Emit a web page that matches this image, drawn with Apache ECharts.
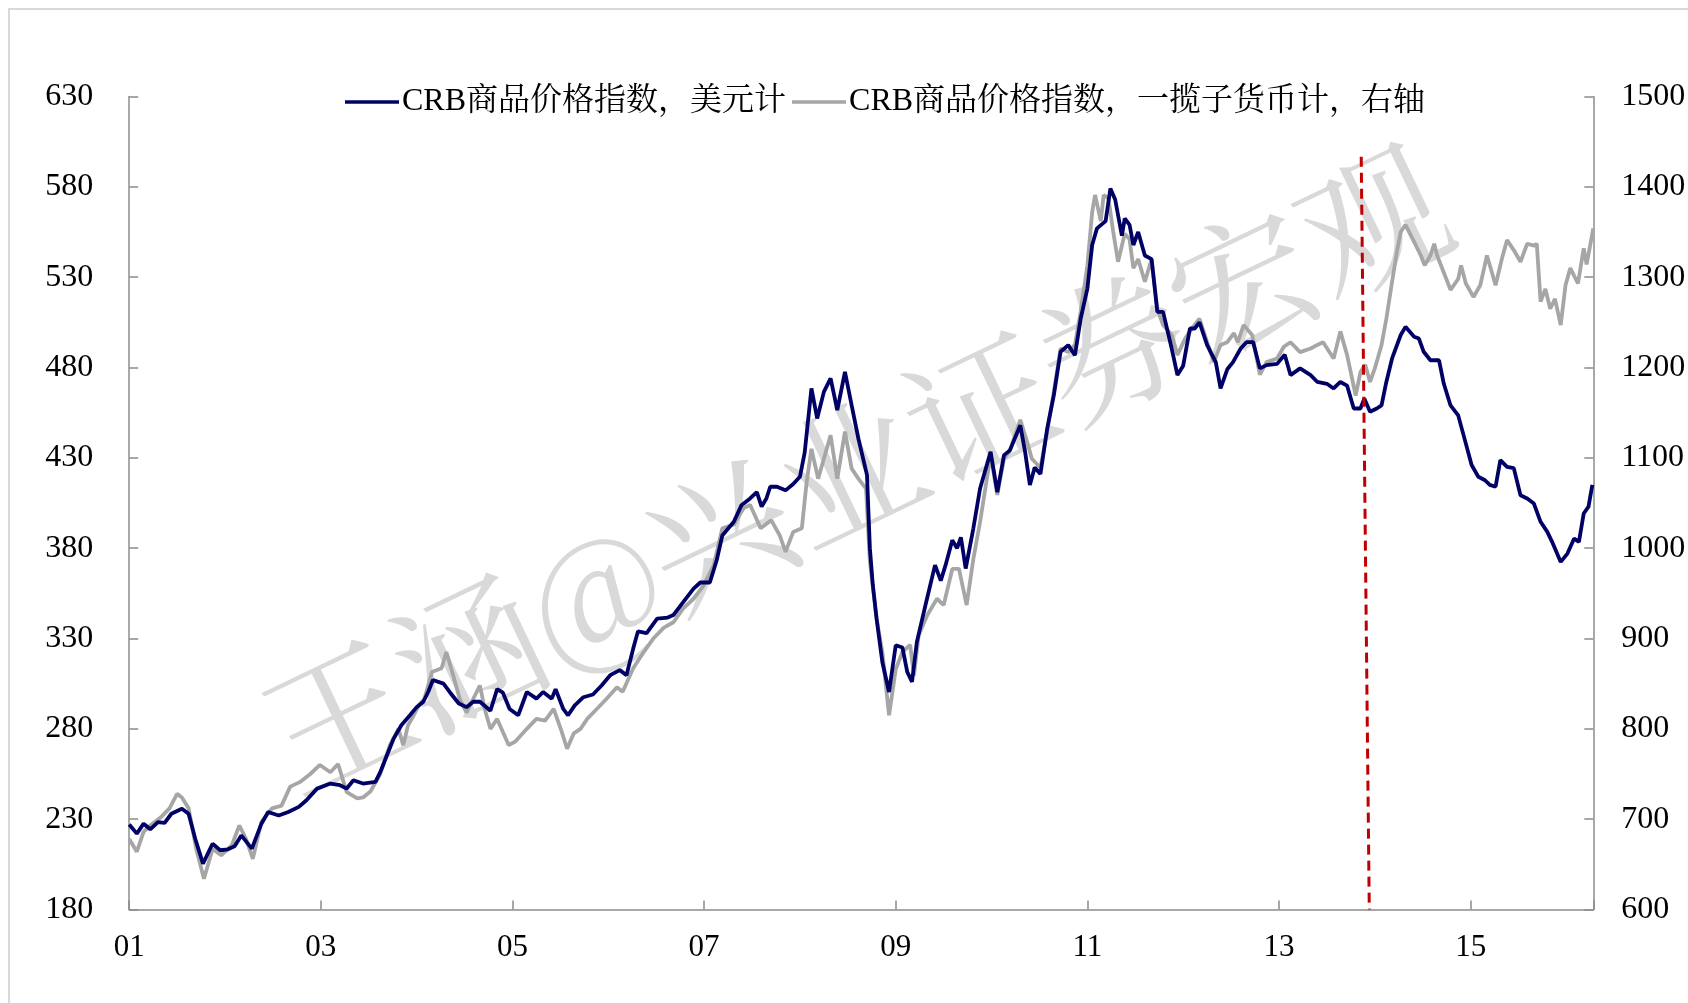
<!DOCTYPE html>
<html>
<head>
<meta charset="utf-8">
<script src="https://cdn.jsdelivr.net/npm/echarts@6/dist/echarts.min.js"></script>
<style>
html,body{margin:0;padding:0;background:#fff;}
#chart{width:1688px;height:1003px;}
</style>
</head>
<body>
<div id="chart"></div>
<script>
// x values: years since 2001.0 (axis labels "01","03",...)
const usdX = [0.00,0.08,0.15,0.22,0.30,0.37,0.44,0.55,0.62,0.69,0.77,0.87,0.95,1.03,1.10,1.17,1.28,1.38,1.45,1.56,1.66,1.77,1.85,1.96,2.10,2.20,2.27,2.34,2.44,2.57,2.62,2.69,2.76,2.84,2.93,3.00,3.07,3.12,3.17,3.28,3.35,3.44,3.52,3.59,3.66,3.77,3.84,3.90,3.97,4.06,4.15,4.25,4.32,4.41,4.45,4.53,4.58,4.65,4.74,4.84,4.93,5.02,5.12,5.19,5.26,5.31,5.40,5.51,5.62,5.68,5.78,5.89,5.96,6.06,6.13,6.19,6.31,6.39,6.48,6.55,6.60,6.65,6.69,6.76,6.85,6.93,7.00,7.05,7.12,7.18,7.25,7.32,7.39,7.47,7.54,7.61,7.70,7.73,7.76,7.80,7.86,7.93,8.00,8.07,8.12,8.17,8.22,8.31,8.41,8.47,8.52,8.59,8.64,8.68,8.73,8.81,8.88,8.99,9.06,9.13,9.19,9.30,9.35,9.40,9.45,9.51,9.58,9.65,9.72,9.80,9.87,9.93,10.00,10.05,10.10,10.19,10.24,10.29,10.36,10.39,10.44,10.48,10.53,10.60,10.67,10.73,10.79,10.88,10.94,11.00,11.07,11.12,11.17,11.25,11.34,11.39,11.46,11.52,11.60,11.66,11.73,11.80,11.87,11.98,12.06,12.12,12.22,12.33,12.40,12.50,12.57,12.64,12.71,12.78,12.85,12.89,12.95,13.02,13.07,13.12,13.18,13.27,13.32,13.41,13.46,13.51,13.58,13.67,13.72,13.79,13.87,13.94,14.01,14.08,14.15,14.20,14.26,14.31,14.38,14.45,14.52,14.59,14.66,14.73,14.80,14.85,14.94,15.01,15.08,15.13,15.18,15.23,15.27];
const usdY = [227,222,227.5,224.4,228.4,228,233,235.8,233,219,205.4,216.4,212.8,213.3,215,221,213.7,227.5,234,232,234,236.8,240.5,246.9,249.7,248.8,247,251.5,249.7,250.6,256,265.4,274.6,282,287.5,292,295,300.4,307,305,300,294,292,295,295,290,302,300,291,287.5,300.4,296.7,300.4,296.7,302,291,287.5,293,297.5,299,304,309.7,312.5,309.7,324.4,334,333,341,341.6,343,350,357.6,361,361,373,387,394.6,403.8,407.5,411,403,407.5,414,414,412,415.5,419.5,433,468.4,451.8,466.5,474,456.4,477.6,459,440.7,420.4,380,360,341,317,300.4,326.3,325,311.5,306,328,348.4,370.6,362,370.6,384.4,380,386,368.7,391,413,433.3,411,431.5,434,448,433.3,415,424.7,421,446,464.7,488.7,492.4,486.8,507,523.7,547.8,557,561,579,573,553,562.5,559,547.8,555,542,540,510.8,510.8,490.5,475.8,481,501.6,501.6,505,492.4,483,468.4,479,483,490.5,494,494,479.5,481.3,482,487,475.8,479.5,475.8,472,471,468.4,472,470,457.3,457.3,462.8,455.5,457.3,459,472,485,498,502.5,497,496,488.7,484,484,471,459,453.5,439.8,426,419.5,417.6,415,414,428.7,425,424.3,409.3,407.5,404.7,394.6,389,383.5,372.4,377,385.3,383.5,399.2,403,415];

const basketX = [0.00,0.08,0.15,0.22,0.33,0.42,0.50,0.55,0.62,0.70,0.78,0.87,0.96,1.07,1.15,1.22,1.29,1.38,1.49,1.59,1.68,1.78,1.89,1.99,2.10,2.18,2.27,2.38,2.44,2.52,2.62,2.72,2.81,2.86,2.91,2.97,3.02,3.08,3.16,3.26,3.31,3.39,3.45,3.52,3.59,3.66,3.71,3.77,3.84,3.96,4.03,4.15,4.25,4.34,4.43,4.51,4.57,4.64,4.71,4.78,4.88,4.98,5.09,5.15,5.26,5.37,5.47,5.58,5.68,5.78,5.89,5.99,6.10,6.19,6.31,6.41,6.48,6.59,6.70,6.79,6.85,6.93,7.02,7.07,7.12,7.19,7.25,7.32,7.39,7.47,7.54,7.61,7.69,7.73,7.80,7.86,7.93,8.00,8.07,8.15,8.19,8.24,8.33,8.43,8.50,8.59,8.66,8.74,8.81,8.88,8.99,9.06,9.13,9.19,9.30,9.37,9.42,9.51,9.58,9.65,9.72,9.80,9.87,9.93,10.00,10.05,10.08,10.14,10.17,10.22,10.27,10.32,10.39,10.44,10.48,10.53,10.60,10.67,10.73,10.79,10.88,10.94,11.02,11.09,11.17,11.25,11.32,11.39,11.46,11.53,11.57,11.63,11.72,11.80,11.87,11.98,12.05,12.12,12.22,12.33,12.40,12.46,12.57,12.64,12.71,12.80,12.85,12.90,12.95,13.00,13.07,13.12,13.18,13.23,13.27,13.32,13.41,13.48,13.52,13.58,13.62,13.65,13.79,13.87,13.90,13.95,14.03,14.10,14.17,14.22,14.26,14.33,14.38,14.45,14.52,14.59,14.66,14.69,14.73,14.78,14.83,14.88,14.94,14.99,15.04,15.12,15.18,15.21,15.28];
const basketY = [678,664,686,693,702,712,728,724,712,667,634,667,660,671,693,678,656,697,712,715,736,741,750,760,752,761,730,723,724,731,750,782,800,782,804,815,826,833,863,867,885,856,833,818,833,848,822,800,811,782,786,800,811,809,822,798,778,795,800,811,822,833,846,841,867,885,900,912,918,933,944,958,981,1022,1026,1044,1048,1022,1031,1014,996,1018,1022,1073,1110,1077,1099,1125,1077,1129,1088,1077,1066,985,922,885,815,866,885,893,859,904,926,944,937,977,977,937,988,1029,1103,1059,1099,1108,1142,1118,1099,1089,1129,1173,1221,1217,1225,1262,1313,1372,1391,1362,1391,1387,1350,1317,1348,1342,1310,1320,1295,1320,1265,1247,1236,1214,1232,1243,1254,1228,1206,1225,1228,1238,1228,1247,1236,1192,1206,1210,1223,1228,1217,1221,1225,1228,1210,1240,1214,1169,1195,1203,1184,1199,1225,1254,1295,1328,1350,1358,1339,1324,1313,1324,1337,1324,1286,1298,1313,1293,1278,1291,1324,1306,1291,1322,1341,1330,1317,1337,1335,1337,1273,1287,1265,1276,1247,1291,1310,1293,1332,1314,1354];

const seriesNames = ['CRB商品价格指数，美元计', 'CRB商品价格指数，一揽子货币计，右轴'];
const xLabelYears = ['01','03','05','07','09','11','13','15'];
const dividerX = [12.858, 12.942];
const dividerY = [596.7, 180];

const FONT = "'Liberation Serif','Times New Roman','Noto Serif CJK SC','Noto Sans CJK SC',serif";
const chart = echarts.init(document.getElementById('chart'), null, {renderer: 'canvas'});

const zip = (xs, ys) => xs.map((x, i) => [x, ys[i]]);

chart.setOption({
  animation: false,
  backgroundColor: '#ffffff',
  graphic: [
    {type: 'rect', z: -10, silent: true, shape: {x: 9, y: 9, width: 2000, height: 2000},
     style: {fill: 'none', stroke: '#d9d9d9', lineWidth: 2}},
    {type: 'text', z: -5, silent: true, x: 855, y: 468, rotation: 25.6 * Math.PI / 180,
     style: {text: '王涵@兴业证券宏观', fill: '#d9d9d9', font: "145px 'Noto Serif CJK SC','Noto Sans CJK SC',serif",
             align: 'center', verticalAlign: 'middle'}}
  ],
  legend: {
    left: 340, top: 81,
    icon: 'rect',
    itemWidth: 54, itemHeight: 3.5, itemGap: 6,
    textStyle: {fontFamily: FONT, fontSize: 32, color: '#000', padding: [0,0,0,-2]},
    data: seriesNames
  },
  grid: {left: 129.2, right: 94.7, top: 96.5, bottom: 93.5, containLabel: false, outerBoundsMode: 'none'},
  xAxis: {
    type: 'value', min: 0, max: 15.28, interval: 2,
    axisLine: {lineStyle: {color: '#8c8c8c', width: 1.5}},
    axisTick: {inside: true, length: 9, lineStyle: {color: '#8c8c8c', width: 1.5}},
    splitLine: {show: false},
    axisLabel: {
      fontFamily: FONT, fontSize: 31, color: '#000', margin: 23,
      formatter: v => {
        const r = Math.round(v);
        if (Math.abs(v - r) > 1e-6 || r % 2 !== 0) return '';
        return xLabelYears[r / 2] || '';
      }
    }
  },
  yAxis: [
    {type: 'value', min: 180, max: 630, interval: 50, position: 'left',
     axisLine: {show: true, lineStyle: {color: '#8c8c8c', width: 1.5}},
     axisTick: {show: true, inside: true, length: 9, lineStyle: {color: '#8c8c8c', width: 1.5}},
     splitLine: {show: false},
     axisLabel: {fontFamily: FONT, fontSize: 32, color: '#000', margin: 36, formatter: v => String(v)}},
    {type: 'value', min: 600, max: 1500, interval: 100, position: 'right',
     axisLine: {show: true, lineStyle: {color: '#8c8c8c', width: 1.5}},
     axisTick: {show: true, inside: true, length: 9, lineStyle: {color: '#8c8c8c', width: 1.5}},
     splitLine: {show: false},
     axisLabel: {fontFamily: FONT, fontSize: 32, color: '#000', margin: 28, formatter: v => String(v)}}
  ],
  series: [
    {name: seriesNames[1], type: 'line', yAxisIndex: 1, symbol: 'none', z: 2,
     lineStyle: {color: '#a6a6a6', width: 3.8}, itemStyle: {color: '#a6a6a6'},
     data: zip(basketX, basketY)},
    {name: seriesNames[0], type: 'line', yAxisIndex: 0, symbol: 'none', z: 3,
     lineStyle: {color: '#000066', width: 3.8}, itemStyle: {color: '#000066'},
     data: zip(usdX, usdY)},
    {name: 'divider', type: 'line', yAxisIndex: 0, symbol: 'none', z: 4,
     lineStyle: {color: '#c00000', width: 3, type: [10, 6]},
     data: zip(dividerX, dividerY)}
  ]
});
</script>
</body>
</html>
